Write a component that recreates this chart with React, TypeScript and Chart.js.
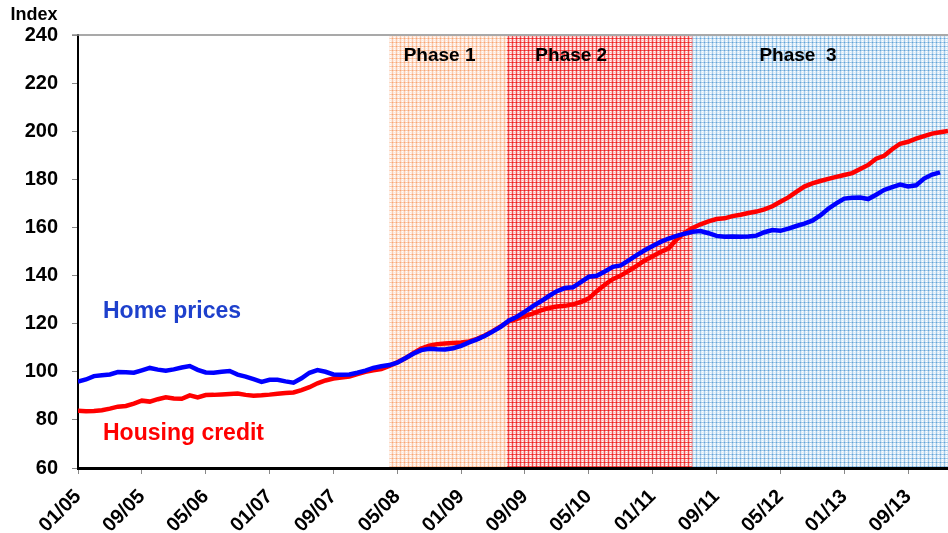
import React, { useEffect, useRef } from 'react';
import { Chart, registerables } from 'chart.js';

Chart.register(...registerables);

// ---- Data (monthly, index 0 = 01/05) ----
const xTickLabels = ['01/05', '09/05', '05/06', '01/07', '09/07', '05/08', '01/09', '09/09', '05/10', '01/11', '09/11', '05/12', '01/13', '09/13'];

const homePrices = [
  95.9, 96.8, 98.2, 98.6, 98.9, 99.9, 99.8, 99.6, 100.6, 101.6,
  100.9, 100.4, 101.0, 101.8, 102.4, 100.8, 99.7, 99.6, 100.0, 100.3,
  98.8, 98.0, 96.9, 95.8, 96.7, 96.7, 96.0, 95.5, 97.3, 99.6,
  100.7, 100.0, 98.9, 98.8, 98.9, 99.6, 100.5, 101.6, 102.3, 102.8,
  103.8, 105.6, 107.5, 109.0, 109.6, 109.4, 109.3, 109.8, 110.8, 112.2,
  113.5, 115.0, 116.8, 118.8, 121.3, 122.9, 125.0, 127.3, 129.3, 131.5,
  133.5, 134.8, 135.1, 137.3, 139.5, 139.9, 141.7, 143.6, 144.2, 146.3,
  148.5, 150.5, 152.3, 154.0, 155.4, 156.5, 157.4, 158.2, 158.5, 157.6,
  156.5, 156.1, 156.2, 156.1, 156.2, 156.6, 158.0, 158.9, 158.6, 159.5,
  160.6, 161.6, 162.8, 165.0, 167.8, 170.0, 172.0, 172.3, 172.4, 171.8,
  173.6, 175.6, 176.8, 177.8, 177.0, 177.5, 180.3, 182.0, 182.9,
];

const housingCredit = [
  83.8, 83.6, 83.7, 84.0, 84.7, 85.5, 85.8, 86.8, 88.0, 87.6,
  88.6, 89.4, 88.9, 88.8, 90.2, 89.3, 90.3, 90.4, 90.6, 90.8,
  91.0, 90.4, 90.0, 90.2, 90.5, 90.9, 91.2, 91.4, 92.4, 93.6,
  95.2, 96.4, 97.2, 97.6, 98.0, 99.0, 100.0, 100.6, 101.1, 102.4,
  104.0, 105.6, 107.7, 109.7, 110.8, 111.5, 111.8, 112.0, 112.2, 112.6,
  113.7, 115.2, 117.0, 119.0, 121.0, 122.0, 123.2, 124.2, 125.5, 126.5,
  127.1, 127.4, 128.0, 129.0, 130.5, 133.5, 136.2, 138.5, 140.0, 142.0,
  144.0, 146.3, 148.0, 149.8, 151.3, 155.0, 157.8, 159.8, 161.3, 162.5,
  163.5, 163.8, 164.7, 165.3, 166.0, 166.6, 167.5, 168.8, 170.7, 172.5,
  174.8, 177.0, 178.3, 179.3, 180.2, 181.0, 181.8, 182.6, 184.3, 186.0,
  188.6, 189.8, 192.5, 194.8, 195.6, 196.9, 198.0, 199.0, 199.6, 200.1,
];

const phaseNames = ['Phase 1', 'Phase 2', 'Phase  3'];
const phaseStarts = [39, 53.75, 77];
const phaseEnds = [53.75, 77, 109];

// ---- Styling / layout (not data) ----
const FONT = '"Liberation Sans", Arial, Helvetica, sans-serif';
const phaseLabelAt = [45.3, 61.8, 90.2];
const phaseColors = [
  { base: '#fdeae0', line: '#fbc9aa', dark: '#f7a476' },
  { base: '#fbc4c4', line: '#f25050', dark: '#ec1c1c' },
  { base: '#e0eef9', line: '#a3cae9', dark: '#62a2d6' },
];

function makePattern(ctx: CanvasRenderingContext2D, c: { base: string; line: string; dark: string }) {
  const t = document.createElement('canvas');
  t.width = 4;
  t.height = 4;
  const g = t.getContext('2d')!;
  g.fillStyle = c.base;
  g.fillRect(0, 0, 4, 4);
  g.fillStyle = '#ffffff';
  g.fillRect(2, 1, 1, 1);
  g.fillRect(2, 3, 1, 1);
  g.fillStyle = c.line;
  g.fillRect(0, 0, 1, 4);
  g.fillRect(0, 2, 4, 1);
  g.fillStyle = c.dark;
  g.fillRect(0, 2, 1, 1);
  return ctx.createPattern(t, 'repeat')!;
}

const decorPlugin = {
  id: 'decor',
  beforeDatasetsDraw(chart: any) {
    const { ctx, chartArea, scales } = chart;
    const x = scales.x;
    ctx.save();
    for (let i = 0; i < phaseNames.length; i++) {
      const x0 = x.getPixelForValue(phaseStarts[i]);
      const x1 = x.getPixelForValue(phaseEnds[i]);
      ctx.fillStyle = makePattern(ctx, phaseColors[i]);
      ctx.fillRect(x0, chartArea.top + 1, x1 - x0, chartArea.bottom - chartArea.top - 2);
    }
    ctx.font = `bold 19px ${FONT}`;
    ctx.fillStyle = '#000';
    ctx.textAlign = 'center';
    ctx.textBaseline = 'middle';
    for (let i = 0; i < phaseNames.length; i++) {
      ctx.fillText(phaseNames[i], x.getPixelForValue(phaseLabelAt[i]), chartArea.top + 21);
    }
    ctx.restore();
  },
  afterDraw(chart: any) {
    const { ctx, chartArea } = chart;
    ctx.save();
    // top border
    ctx.strokeStyle = '#8c8c8c';
    ctx.lineWidth = 1.5;
    ctx.beginPath();
    ctx.moveTo(chartArea.left - 6, chartArea.top);
    ctx.lineTo(chartArea.right, chartArea.top);
    ctx.stroke();
    // bottom axis line on top of shading
    ctx.strokeStyle = '#000';
    ctx.lineWidth = 3;
    ctx.beginPath();
    ctx.moveTo(chartArea.left - 1, chartArea.bottom + 0.5);
    ctx.lineTo(chartArea.right, chartArea.bottom + 0.5);
    ctx.stroke();
    // axis title
    ctx.font = `bold 18px ${FONT}`;
    ctx.fillStyle = '#000';
    ctx.textAlign = 'center';
    ctx.textBaseline = 'middle';
    ctx.fillText('Index', 34, 15);
    // series labels
    ctx.font = `bold 23px ${FONT}`;
    ctx.textAlign = 'left';
    ctx.fillStyle = '#1e40cc';
    ctx.fillText('Home prices', 103, 312);
    ctx.fillStyle = '#ff0000';
    ctx.fillText('Housing credit', 103, 434);
    ctx.restore();
  },
};

export default function App() {
  const ref = useRef<HTMLCanvasElement | null>(null);

  useEffect(() => {
    if (!ref.current) return;
    const chart = new Chart(ref.current, {
      type: 'line',
      data: {
        datasets: [
          {
            label: 'Home prices',
            data: homePrices.map((v, i) => ({ x: i, y: v })),
            borderColor: '#0000ff',
            borderWidth: 4.5,
            pointRadius: 0,
            tension: 0,
            fill: false,
          },
          {
            label: 'Housing credit',
            data: housingCredit.map((v, i) => ({ x: i, y: v })),
            borderColor: '#ff0000',
            borderWidth: 4.5,
            pointRadius: 0,
            tension: 0,
            fill: false,
          },
        ],
      },
      options: {
        responsive: false,
        animation: false,
        layout: { padding: { top: 35, left: 0, right: 0, bottom: 0 } },
        plugins: {
          legend: { display: false },
          tooltip: { enabled: false },
        },
        scales: {
          x: {
            type: 'linear',
            min: 0,
            max: 109,
            border: { display: true, color: '#000', width: 3 },
            grid: { display: true, drawOnChartArea: false, color: '#888', tickLength: 6, lineWidth: 1 },
            ticks: {
              stepSize: 8,
              includeBounds: false,
              autoSkip: false,
              maxRotation: 45,
              minRotation: 45,
              padding: 11,
              color: '#000',
              font: { family: FONT, size: 20, weight: 'bold' },
              callback: (v: any) => xTickLabels[Math.round(Number(v) / 8)] ?? '',
            },
            afterFit: (s: any) => {
              s.height = 65;
            },
          },
          y: {
            min: 60,
            max: 240,
            border: { display: true, color: '#000', width: 2 },
            grid: { display: true, drawOnChartArea: false, color: '#888', tickLength: 6, lineWidth: 1 },
            ticks: {
              stepSize: 20,
              padding: 14,
              color: '#000',
              font: { family: FONT, size: 20, weight: 'bold' },
            },
            afterFit: (s: any) => {
              s.width = 78;
            },
          },
        },
      },
      plugins: [decorPlugin],
    });
    return () => chart.destroy();
  }, []);

  return (
    <div style={{ position: 'fixed', left: 0, top: 0, width: 948, height: 533, background: '#fff' }}>
      <canvas ref={ref} width={948} height={533} />
    </div>
  );
}
